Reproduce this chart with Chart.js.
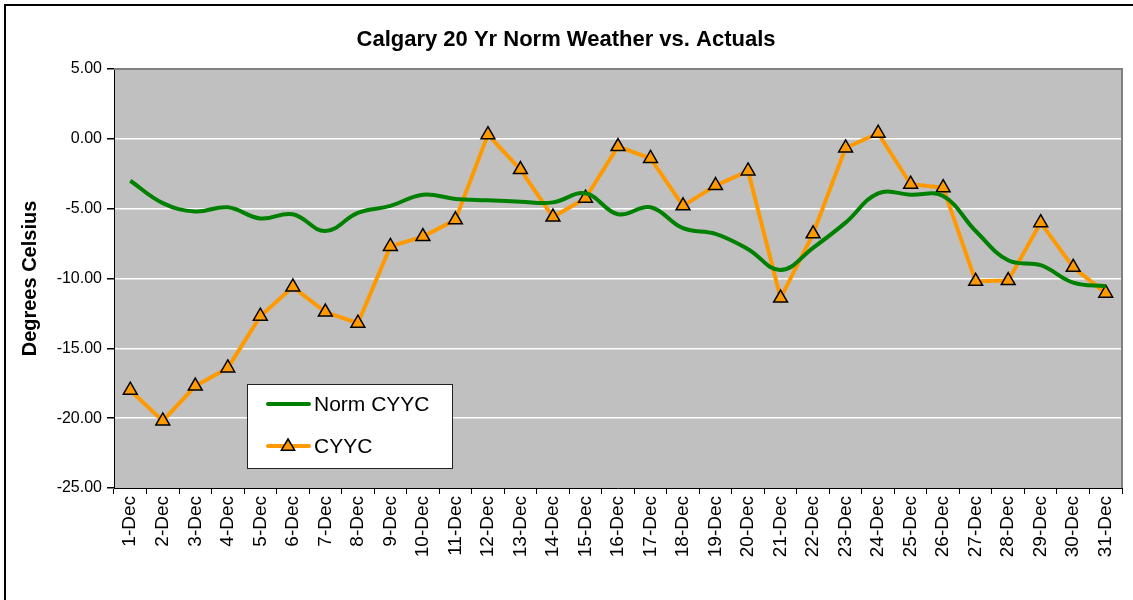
<!DOCTYPE html>
<html>
<head>
<meta charset="utf-8">
<script src="https://cdn.jsdelivr.net/npm/chart.js@4"></script>
<style>
  html, body { margin: 0; padding: 0; background: #fff; }
  canvas { display: block; }
</style>
</head>
<body>
<canvas id="weatherChart" width="1133" height="600"></canvas>
<script>
// data
var days = ['1-Dec', '2-Dec', '3-Dec', '4-Dec', '5-Dec', '6-Dec', '7-Dec', '8-Dec', '9-Dec', '10-Dec',
    '11-Dec', '12-Dec', '13-Dec', '14-Dec', '15-Dec', '16-Dec', '17-Dec', '18-Dec', '19-Dec', '20-Dec',
    '21-Dec', '22-Dec', '23-Dec', '24-Dec', '25-Dec', '26-Dec', '27-Dec', '28-Dec', '29-Dec', '30-Dec', '31-Dec'];
var normCYYC = [-3.0, -4.6, -5.2, -4.9, -5.7, -5.4, -6.6, -5.3, -4.8, -4.0,
    -4.3, -4.4, -4.5, -4.55, -3.9, -5.4, -4.9, -6.4, -6.8, -7.9,
    -9.4, -7.8, -6.0, -3.9, -4.0, -4.1, -6.6, -8.7, -9.05, -10.3, -10.55];
var cyyc = [-18.0, -20.2, -17.7, -16.4, -12.7, -10.6, -12.4, -13.2, -7.7, -7.0,
    -5.8, 0.3, -2.2, -5.6, -4.25, -0.55, -1.4, -4.8, -3.35, -2.3,
    -11.4, -6.8, -0.65, 0.4, -3.25, -3.5, -10.2, -10.15, -6.0, -9.2, -11.05];
var yTicks = [5, 0, -5, -10, -15, -20, -25];

var FONT = "Arial, 'Liberation Sans', sans-serif";

// plot area background + frame, outer chart border, and the legend box
var excelLook = {
    id: 'excelLook',
    beforeDatasetsDraw: function (chart) {
        var c = chart.ctx, a = chart.chartArea;
        c.save();
        c.strokeStyle = '#808080';
        c.lineWidth = 2;
        c.beginPath();
        c.moveTo(a.left, a.top);
        c.lineTo(a.right, a.top);
        c.lineTo(a.right, a.bottom);
        c.stroke();
        c.restore();
    },
    beforeDraw: function (chart) {
        var c = chart.ctx, a = chart.chartArea;
        c.save();
        c.fillStyle = '#C0C0C0';
        c.fillRect(a.left, a.top, a.right - a.left, a.bottom - a.top);
        c.strokeStyle = '#000';
        c.lineWidth = 2;
        c.beginPath();
        c.moveTo(chart.width, 5);
        c.lineTo(5, 5);
        c.lineTo(5, chart.height);
        c.stroke();
        c.restore();
    },
    afterDraw: function (chart) {
        var c = chart.ctx;
        var x = 247, y = 384, w = 205, h = 84;
        c.save();
        c.fillStyle = '#fff';
        c.fillRect(x, y, w, h);
        c.strokeStyle = '#222';
        c.lineWidth = 1;
        c.strokeRect(x + 0.5, y + 0.5, w, h);
        c.font = '21px ' + FONT;
        c.textBaseline = 'middle';
        c.fillStyle = '#000';
        var rows = [{ y: y + 20, ds: chart.data.datasets[0] }, { y: y + 62, ds: chart.data.datasets[1] }];
        rows.forEach(function (r) {
            c.strokeStyle = r.ds.borderColor;
            c.lineWidth = 4;
            c.lineCap = 'round';
            c.beginPath();
            c.moveTo(268, r.y);
            c.lineTo(309, r.y);
            c.stroke();
            if (r.ds.pointStyle === 'triangle') {
                var s = 7;
                c.beginPath();
                c.moveTo(288, r.y - s);
                c.lineTo(288 + s * 0.95, r.y + s * 0.6);
                c.lineTo(288 - s * 0.95, r.y + s * 0.6);
                c.closePath();
                c.fillStyle = r.ds.pointBackgroundColor;
                c.fill();
                c.strokeStyle = '#000';
                c.lineWidth = 1.5;
                c.stroke();
            }
            c.fillStyle = '#000';
            c.fillText(r.ds.label, 314, r.y + 1);
        });
        c.restore();
    }
};

var ctx = document.getElementById('weatherChart').getContext('2d');
var weatherChart = new Chart(ctx, {
    type: 'line',
    data: {
        labels: days,
        datasets: [{
            label: 'Norm CYYC',
            data: normCYYC,
            borderColor: '#008000',
            borderWidth: 4,
            pointRadius: 0,
            tension: 0.4,
            fill: false
        }, {
            label: 'CYYC',
            data: cyyc,
            borderColor: '#FF9900',
            borderWidth: 4,
            tension: 0,
            pointStyle: 'triangle',
            pointRadius: 8,
            pointBackgroundColor: '#FF9900',
            pointBorderColor: '#000',
            pointBorderWidth: 1.5,
            fill: false
        }]
    },
    options: {
        responsive: false,
        animation: false,
        devicePixelRatio: 1,
        layout: { padding: { left: 10, right: 11, top: 0, bottom: 0 } },
        plugins: {
            legend: { display: false },
            tooltip: { enabled: false },
            title: {
                display: true,
                text: 'Calgary 20 Yr Norm Weather vs. Actuals',
                color: '#000',
                font: { family: FONT, size: 22, weight: 'bold' },
                padding: { top: 27, bottom: 15.6 }
            }
        },
        scales: {
            x: {
                type: 'category',
                offset: true,
                grid: {
                    offset: true,
                    drawOnChartArea: false,
                    tickLength: 6,
                    tickColor: '#000'
                },
                border: { color: '#000', width: 1 },
                ticks: {
                    autoSkip: false,
                    minRotation: 90,
                    maxRotation: 90,
                    padding: 2,
                    color: '#000',
                    font: { family: FONT, size: 19 }
                },
                afterFit: function (s) { s.height = 112; }
            },
            y: {
                min: -25,
                max: 5,
                afterBuildTicks: function (s) {
                    s.ticks = yTicks.map(function (v) { return { value: v }; });
                },
                grid: {
                    color: function (c) {
                        return (c.tick && (c.tick.value === 5 || c.tick.value === -25)) ? 'rgba(0,0,0,0)' : '#FFFFFF';
                    },
                    lineWidth: 1.5,
                    tickLength: 7,
                    tickColor: '#000'
                },
                border: { color: '#000', width: 1 },
                ticks: {
                    padding: 5,
                    color: '#000',
                    font: { family: FONT, size: 16 },
                    callback: function (v) { return Number(v).toFixed(2); }
                },
                title: {
                    display: true,
                    text: 'Degrees Celsius',
                    color: '#000',
                    font: { family: FONT, size: 20, weight: 'bold' },
                    padding: { top: 8, bottom: 0 }
                },
                afterFit: function (s) { s.width = 104; }
            }
        }
    },
    plugins: [excelLook]
});
</script>
</body>
</html>
